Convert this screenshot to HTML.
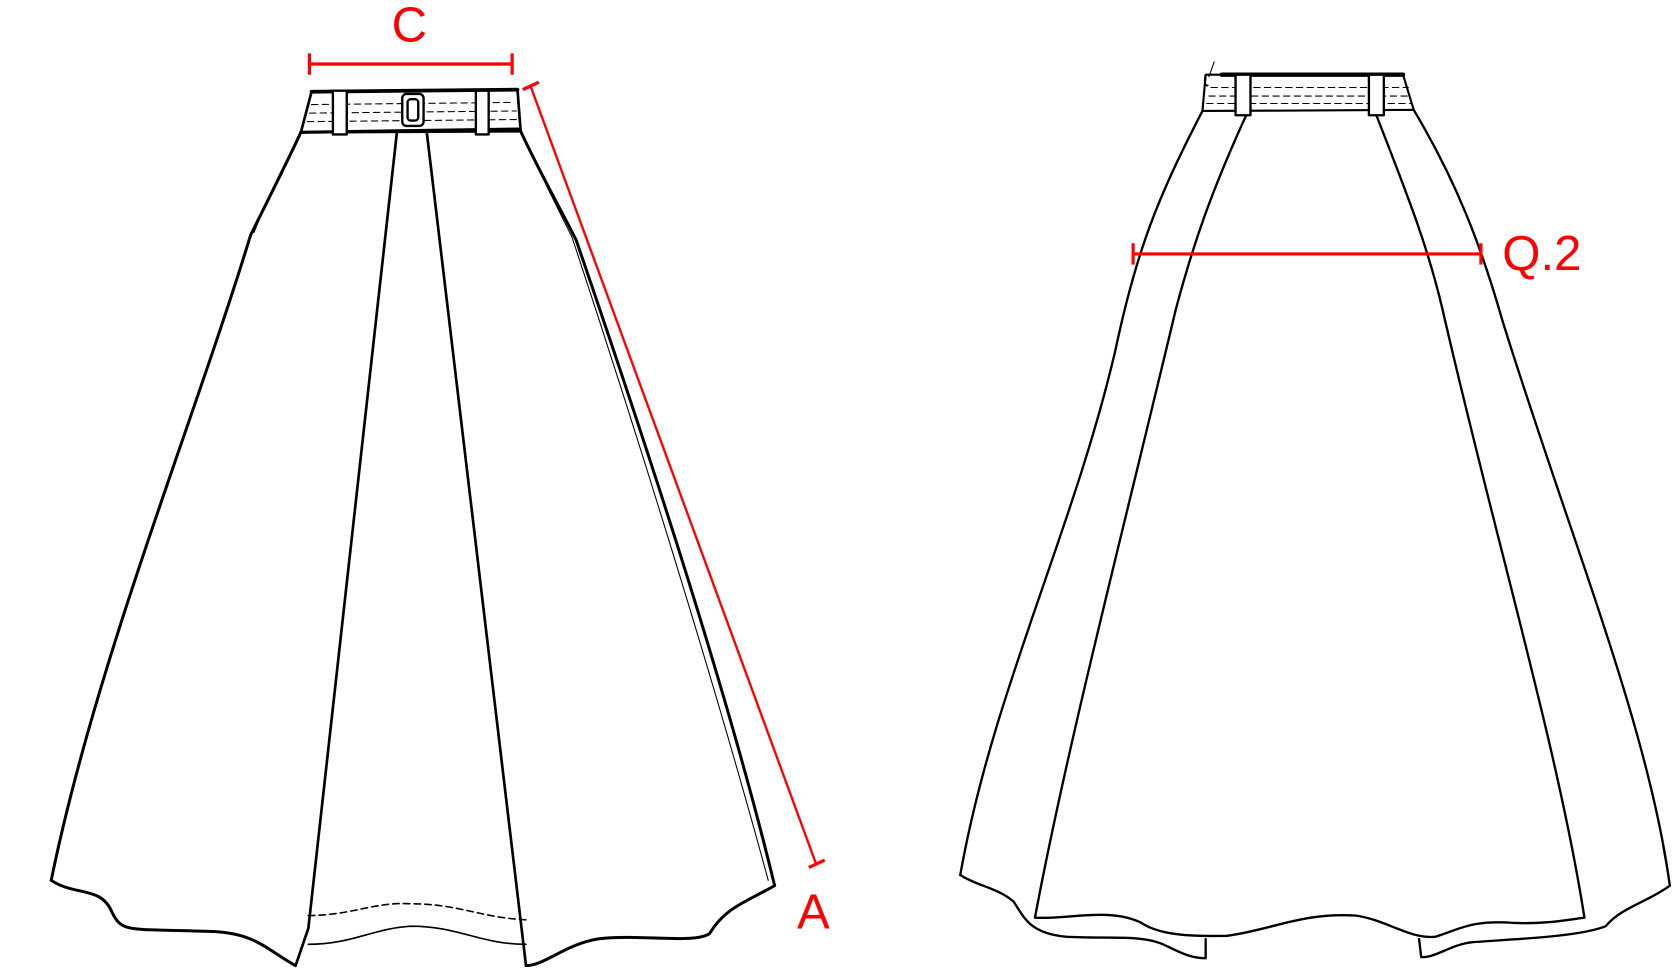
<!DOCTYPE html>
<html><head><meta charset="utf-8"><style>html,body{margin:0;padding:0;background:#fff;width:1673px;height:971px;overflow:hidden}</style></head>
<body>
<svg width="1673" height="971" viewBox="0 0 1568 910" preserveAspectRatio="none" xmlns="http://www.w3.org/2000/svg">
<g fill="none" stroke="#000" stroke-width="2.2" stroke-linejoin="round" stroke-linecap="round">
<!-- LEFT SKIRT -->
<path d="M292,86 L485,84 L488,123 L282,124 Z" stroke-width="2.5"/>
<path d="M282,124 L486,121" stroke-width="3"/>
<path d="M292,86 L485,84" stroke-width="3.5"/>
<g stroke-width="1" stroke-dasharray="6,4"><path d="M292,98 L480,96"/><path d="M290,106 L484,104"/><path d="M288,114 L486,112"/></g>
<rect x="312" y="85" width="13" height="41" fill="#fff"/>
<rect x="446" y="85" width="12" height="41" fill="#fff"/>
<rect x="377" y="88" width="20" height="30" rx="4" fill="#fff"/>
<rect x="382" y="93" width="10" height="20" rx="3"/>
<path d="M282,124 C270,150 250,190 235,220 C180,400 90,620 48,825" stroke-width="2.8"/>
<path d="M280,130 C262,160 245,200 238,218" stroke-width="1"/>
<path d="M48,825 C70,840 95,830 105,855 C115,875 120,870 200,873 C240,875 250,890 277,905" stroke-width="2.8"/>
<path d="M372,124 L289,870 L277,905" stroke-width="2.5"/>
<path d="M400,124 L493,905" stroke-width="2.5"/>
<path d="M289,885 C330,885 350,870 385,868 C430,868 450,885 493,885" stroke-width="1.5"/>
<path d="M289,858 C330,858 350,845 385,847 C430,847 450,860 493,862" stroke-width="1.5" stroke-dasharray="6,4"/>
<path d="M488,123 C505,160 525,195 540,225 C600,400 680,640 726,830" stroke-width="2.8"/>
<path d="M490,128 C505,160 520,190 536,222 C595,400 670,640 720,825" stroke-width="1"/>
<path d="M726,830 C700,845 680,850 665,875 C650,885 600,875 560,880 C530,885 510,905 493,905" stroke-width="2.8"/>
<!-- RIGHT SKIRT -->
<path d="M1130,70 L1315,70 L1325,103 L1127,104 Z" stroke-width="2"/>
<path d="M1145,70 L1315,70" stroke-width="4"/>
<path d="M1130,70 C1128,75 1130,82 1132,80" stroke-width="1.5"/>
<path d="M1138,58 L1133,72" stroke-width="1"/>
<g stroke-width="1" stroke-dasharray="6,4"><path d="M1135,82 L1320,82"/><path d="M1133,90 L1322,90"/><path d="M1131,97 L1323,97"/></g>
<rect x="1158" y="70" width="14" height="38" fill="#fff"/>
<rect x="1283" y="70" width="14" height="38" fill="#fff"/>
<path d="M1127,104 C1085,185 1065,235 1045,330 C1005,500 930,650 900,820"/>
<path d="M1325,103 C1365,170 1388,230 1408,300 C1470,500 1545,680 1565,830"/>
<path d="M1168,108 C1135,180 1118,230 1102,290 C1052,500 1000,700 970,860"/>
<path d="M1290,108 C1318,180 1338,230 1352,290 C1400,500 1460,700 1485,860"/>
<path d="M970,860 C1000,862 1040,850 1070,865 C1085,875 1110,878 1150,877 C1190,872 1220,855 1270,858 C1300,862 1320,880 1345,878 C1370,870 1380,862 1420,865 C1450,866 1470,862 1485,860"/>
<path d="M900,820 C915,830 935,832 950,845 C960,860 965,875 1000,878 C1040,880 1070,876 1090,885 C1105,892 1115,898 1130,898 L1130,880"/>
<path d="M1330,880 L1332,897 C1345,898 1360,885 1380,883 C1420,880 1480,878 1505,868 C1520,850 1545,845 1565,830"/>
<path d="M1565,830 L1558,790" stroke-width="1.2"/>
</g>
<!-- RED MEASURES -->
<g stroke="#f00" stroke-width="3" fill="none">
<path d="M290,60 L480,60 M290,50 L290,70 M480,50 L480,70"/>
<path d="M497,80 L765,810" stroke-width="2.2"/>
<path d="M490,84 L505,77 M758,813 L773,806"/>
<path d="M1062,238 L1388,238 M1062,228 L1062,248 M1388,228 L1388,248"/>
</g>
<g fill="#f00" font-family="Liberation Sans, sans-serif" font-size="46">
<text x="367" y="39">C</text>
<text x="747" y="870">A</text>
<text x="1408" y="253">Q.2</text>
</g>
</svg>
</body></html>
